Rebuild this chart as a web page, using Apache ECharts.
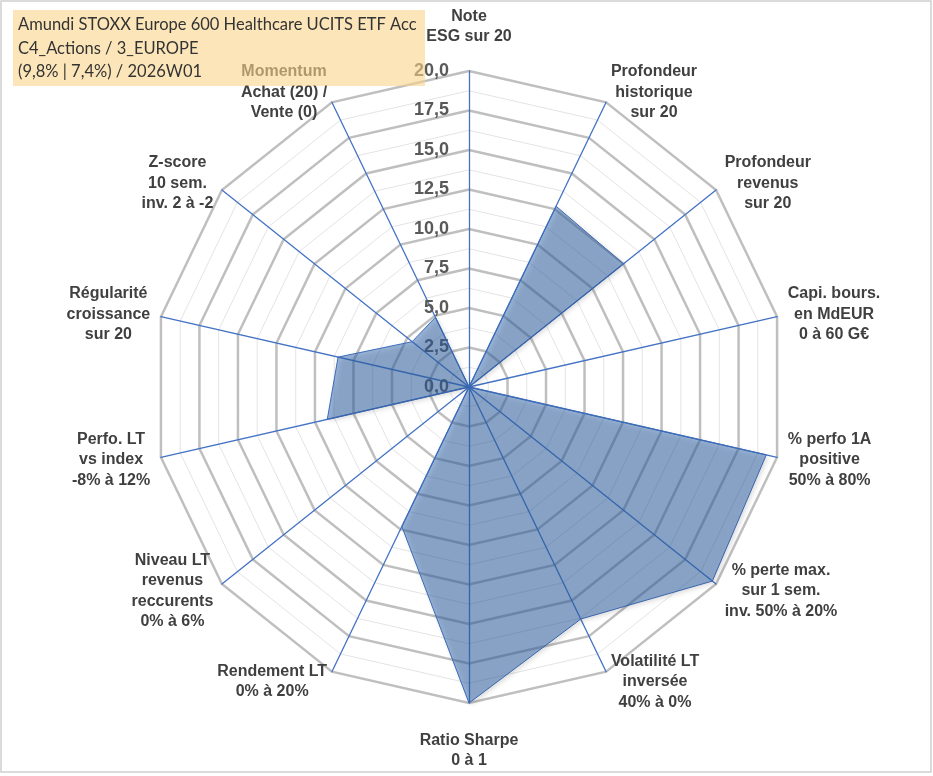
<!DOCTYPE html>
<html>
<head>
<meta charset="utf-8">
<script src="https://cdn.jsdelivr.net/npm/echarts@6/dist/echarts.min.js"></script>
<style>
  html, body { margin: 0; padding: 0; background: #fff; }
  #chart01 { width: 933px; height: 776px; }
</style>
</head>
<body>
<div id="chart01"></div>
<script>
// axes listed clockwise from the top, as in the picture
var axisNames = [
    'Note\nESG sur 20',
    'Profondeur\nhistorique\nsur 20',
    'Profondeur\nrevenus\nsur 20',
    'Capi. bours.\nen MdEUR\n0 à 60 G€',
    '% perfo 1A\npositive\n50% à 80%',
    '% perte max.\nsur 1 sem.\ninv. 50% à 20%',
    'Volatilité LT\ninversée\n40% à 0%',
    'Ratio Sharpe\n0 à 1',
    'Rendement LT\n0% à 20%',
    'Niveau LT\nrevenus\nreccurents\n0% à 6%',
    'Perfo. LT\nvs index\n-8% à 12%',
    'Régularité\ncroissance\nsur 20',
    'Z-score\n10 sem.\ninv. 2 à -2',
    'Momentum\nAchat (20) /\nVente (0)'
];
var scores = [0, 12.7, 12.5, 0, 19.3, 19.7, 16.3, 20, 9.8, 0, 9.2, 8.5, 4.6, 4.9];
var scaleMax = 20;
var titleLines = [
    'Amundi STOXX Europe 600 Healthcare UCITS ETF Acc',
    'C4_Actions / 3_EUROPE',
    '(9,8% | 7,4%) / 2026W01'
];

var labelFont = 'Arial';

// echarts draws radar axes counter-clockwise, so flip the order (top stays first)
var order = [0];
for (var k = axisNames.length - 1; k > 0; k--) order.push(k);

var indThin = [];
var indThick = [];
var dataCcw = [];
order.forEach(function(i, n) {
    indThin.push({ name: axisNames[i], max: scaleMax, min: 0 });
    var ind = { name: axisNames[i], max: scaleMax, min: 0 };
    if (n === 0) {
        ind.axisLabel = { show: true };
        ind.nameGap = 24;
    }
    if (i === 7) ind.nameGap = 27;   // bottom label sits lower
    indThick.push(ind);
    dataCcw.push(scores[i]);
});

var ctr = [469, 387];
var rad = 316;

var cha01 = echarts.init(document.getElementById('chart01'));
var opt01 = {
    backgroundColor: '#fff',
    animation: false,
    radar: [
        // thin minor rings
        {
            center: ctr, radius: rad, shape: 'polygon',
            splitNumber: 16,
            indicator: indThin,
            axisName: { show: false },
            axisLine: { show: false },
            axisTick: { show: false },
            axisLabel: { show: false },
            splitArea: { show: false },
            splitLine: { lineStyle: { color: '#e4e4e4', width: 1 } },
            z: 1
        },
        // thick major rings + axes + names
        {
            center: ctr, radius: rad, shape: 'polygon',
            splitNumber: 8,
            indicator: indThick,
            nameGap: 11,
            axisName: {
                fontFamily: labelFont,
                fontWeight: 'bold',
                fontSize: 16,
                color: '#404040',
                formatter: function(v) {
                    return v.split('\n').map(function(l) { return '{c|' + l + '}'; }).join('\n');
                },
                rich: {
                    c: {
                        align: 'center',
                        color: '#404040',
                        fontFamily: labelFont,
                        fontWeight: 'bold',
                        fontSize: 16,
                        lineHeight: 20.5
                    }
                }
            },
            axisLine: { lineStyle: { color: '#4472c4', width: 1.3 } },
            axisTick: { show: false },
            axisLabel: {
                show: false,
                color: '#595959',
                fontFamily: labelFont,
                fontWeight: 'bold',
                fontSize: 18,
                margin: 20,
                align: 'right',
                formatter: function(v) { return v.toFixed(1).replace('.', ','); }
            },
            splitArea: { show: false },
            splitLine: { lineStyle: { color: '#bfbfbf', width: 2.5 } },
            z: 2
        }
    ],
    series: [
        {
            type: 'radar',
            radarIndex: 1,
            symbol: 'none',
            z: 3,
            lineStyle: { color: '#4472c4', width: 1 },
            areaStyle: {
                color: 'rgba(48,105,175,0.7)',
                shadowBlur: 5,
                shadowColor: 'rgba(0,0,0,0.3)',
                shadowOffsetX: 2,
                shadowOffsetY: 2
            },
            data: [{ value: dataCcw, name: 'Score' }]
        }
    ],
    graphic: [
        {
            type: 'rect', z: 100,
            shape: { x: 1, y: 1, width: 930, height: 771 },
            style: { fill: 'none', stroke: '#d0d0d0', lineWidth: 1.5 }
        },
        {
            type: 'rect', z: 100,
            shape: { x: 13, y: 10, width: 412, height: 76 },
            style: { fill: 'rgba(250,213,138,0.6)' }
        },
        {
            type: 'text', z: 101, left: 18, top: 13,
            style: {
                text: titleLines.join('\n'),
                fill: '#333',
                font: '16.5px Lato',
                lineHeight: 23.5
            }
        }
    ]
};
cha01.setOption(opt01);
</script>
</body>
</html>
